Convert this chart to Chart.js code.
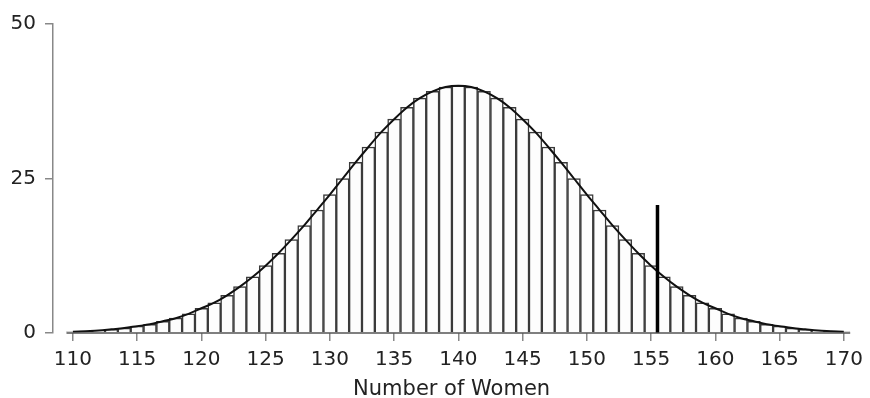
<!DOCTYPE html>
<html>
<head>
<meta charset="utf-8">
<script src="https://cdn.jsdelivr.net/npm/chart.js@4/dist/chart.umd.min.js"></script>
<style>
  html, body { margin: 0; padding: 0; background: #fff; }
  #wrap { width: 870px; height: 398px; }
</style>
</head>
<body>
<div id="wrap"><canvas id="womenChart" width="870" height="398"></canvas></div>
<script>
const women = [110, 111, 112, 113, 114, 115, 116, 117, 118, 119,
  120, 121, 122, 123, 124, 125, 126, 127, 128, 129,
  130, 131, 132, 133, 134, 135, 136, 137, 138, 139,
  140, 141, 142, 143, 144, 145, 146, 147, 148, 149,
  150, 151, 152, 153, 154, 155, 156, 157, 158, 159,
  160, 161, 162, 163, 164, 165, 166, 167, 168, 169, 170];
const counts = [0.2, 0.3, 0.4, 0.6, 0.8, 1.1, 1.4, 1.9, 2.4, 3.1,
  4.0, 4.9, 6.1, 7.5, 9.1, 10.9, 12.9, 15.1, 17.4, 19.9,
  22.4, 25.0, 27.6, 30.1, 32.5, 34.6, 36.5, 38.0, 39.1, 39.8,
  40.0, 39.8, 39.1, 38.0, 36.5, 34.6, 32.5, 30.1, 27.6, 25.0,
  22.4, 19.9, 17.4, 15.1, 12.9, 10.9, 9.1, 7.5, 6.1, 4.9,
  4.0, 3.1, 2.4, 1.9, 1.4, 1.1, 0.8, 0.6, 0.4, 0.3, 0.2];
const markerX = [155.5, 155.5];
const markerY = [0, 20.7];
const xTicks = [110, 115, 120, 125, 130, 135, 140, 145, 150, 155, 160, 165, 170];
const yTicks = [0, 25, 50];

const points = women.map((w, i) => ({ x: w, y: counts[i] }));
const marker = markerX.map((x, i) => ({ x: x, y: markerY[i] }));

// x axis baseline only spans the bars, not the whole plot
const baseline = {
  id: "baseline",
  afterDatasetsDraw(chart) {
    const { ctx, scales } = chart;
    const y = scales.y.getPixelForValue(0);
    ctx.save();
    ctx.strokeStyle = "#555";
    ctx.lineWidth = 1.5;
    ctx.beginPath();
    ctx.moveTo(scales.x.getPixelForValue(women[0] - 0.5), y);
    ctx.lineTo(scales.x.getPixelForValue(women[women.length - 1] + 0.5), y);
    ctx.stroke();
    ctx.restore();
  },
};

const ctx = document.getElementById("womenChart").getContext("2d");
const womenChart = new Chart(ctx, {
  type: "bar",
  data: {
    datasets: [
      {
        type: "line",
        data: marker,
        borderColor: "#000",
        borderWidth: 3.5,
        pointRadius: 0,
        order: 1,
      },
      {
        type: "line",
        data: points,
        borderColor: "#111",
        borderWidth: 2,
        pointRadius: 0,
        cubicInterpolationMode: "monotone",
        order: 2,
      },
      {
        data: points,
        backgroundColor: "#fdfdfd",
        borderColor: "#3a3a3a",
        borderWidth: 1.5,
        barPercentage: 1,
        categoryPercentage: 1,
        order: 3,
      },
    ],
  },
  options: {
    responsive: false,
    animation: false,
    layout: { padding: { top: 24, right: 17, left: 0, bottom: 0 } },
    plugins: {
      legend: { display: false },
      tooltip: { enabled: false },
    },
    scales: {
      x: {
        type: "linear",
        min: 108.45,
        max: 170.5,
        offset: false,
        afterBuildTicks: (s) => {
          s.ticks = xTicks.map((v) => ({ value: v }));
        },
        afterFit: (s) => {
          s.height = 65;
        },
        ticks: {
          autoSkip: false,
          maxRotation: 0,
          padding: 7,
          color: "#222",
          font: { family: "DejaVu Sans", size: 20 },
        },
        grid: {
          display: true,
          offset: false,
          drawOnChartArea: false,
          drawTicks: true,
          tickLength: 8,
          color: "#888",
          lineWidth: 1.5,
        },
        border: { display: false },
        title: {
          display: true,
          text: "Number of Women",
          color: "#222",
          font: { family: "DejaVu Sans", size: 21 },
          padding: { top: 0, bottom: -4 },
        },
      },
      y: {
        min: 0,
        max: 50,
        afterBuildTicks: (s) => {
          s.ticks = yTicks.map((v) => ({ value: v }));
        },
        afterFit: (s) => {
          s.width = 53;
        },
        ticks: {
          padding: 9,
          color: "#222",
          font: { family: "DejaVu Sans", size: 20 },
        },
        grid: {
          display: true,
          drawOnChartArea: false,
          drawTicks: true,
          tickLength: 8,
          color: "#888",
          lineWidth: 1.5,
        },
        border: { display: true, color: "#888", width: 1.5 },
      },
    },
  },
  plugins: [baseline],
});
</script>
</body>
</html>
